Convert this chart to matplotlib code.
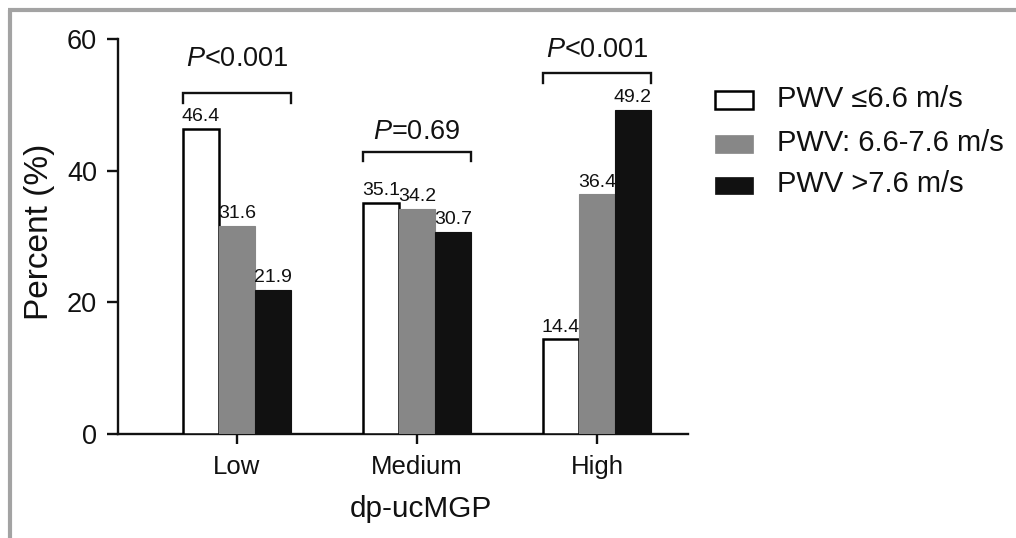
import matplotlib
matplotlib.use("Agg")
import matplotlib.pyplot as plt
from matplotlib.patches import Rectangle
from matplotlib.lines import Line2D
import numpy as np

plt.rcParams['font.family'] = ['Liberation Sans', 'DejaVu Sans']
plt.rcParams['mathtext.fontset'] = 'custom'
plt.rcParams['mathtext.rm'] = 'Liberation Sans'
plt.rcParams['mathtext.it'] = 'Liberation Sans:italic'

# ---- data ----
categories = ["Low", "Medium", "High"]
series_names = ["PWV \u22646.6 m/s", "PWV: 6.6-7.6 m/s", "PWV >7.6 m/s"]
pwv_low = [46.4, 35.1, 14.4]
pwv_mid = [31.6, 34.2, 36.4]
pwv_high = [21.9, 30.7, 49.2]
p_labels = ["$P$<0.001", "$P$=0.69", "$P$<0.001"]
bracket_heights = [51.8, 42.9, 54.8]
p_text_heights = [55.9, 44.8, 57.3]
yticks = [0, 20, 40, 60]

W, H = 1016, 538
fig = plt.figure(figsize=(W / 100, H / 100), dpi=100)

def fx(px):
    return px / W

def fy(py):
    return 1 - py / H

ax = fig.add_axes([fx(118), fy(434), fx(688) - fx(118), fy(39) - fy(434)])

x = np.arange(len(categories))
bw = 0.2
facecolors = ["white", "#878787", "#111111"]
edgecolors = ["black", "#878787", "#111111"]
all_series = [pwv_low, pwv_mid, pwv_high]
for k, (vals, fc, ec) in enumerate(zip(all_series, facecolors, edgecolors)):
    ax.bar(x + (k - 1) * bw, vals, width=bw, facecolor=fc,
           edgecolor=ec, linewidth=1.8 if k == 0 else 0.8, zorder=3)
    for xi, v in zip(x + (k - 1) * bw, vals):
        ax.annotate(f"{v:.1f}", (xi, v), xytext=(0, 5.5), textcoords="offset points",
                    ha="center", va="baseline", fontsize=14, color="#111111")

# significance brackets
leg = 1.5
for xi, bh, th, lab in zip(x, bracket_heights, p_text_heights, p_labels):
    x0, x1 = xi - 0.3, xi + 0.3
    ax.plot([x0, x0, x1, x1], [bh - leg, bh, bh, bh - leg], color="#111111",
            lw=1.7, clip_on=False, solid_joinstyle="miter")
    ax.text(xi, th, lab, ha="center", va="baseline", fontsize=19.5, color="#111111")

ax.set_xlim(-0.661, 2.506)
ax.set_ylim(0, 60)
ax.set_yticks(yticks)
ax.set_xticks(x)
ax.set_xticklabels(categories)
for s in ["top", "right"]:
    ax.spines[s].set_visible(False)
for s in ["left", "bottom"]:
    ax.spines[s].set_linewidth(1.7)
    ax.spines[s].set_color("#111111")
ax.tick_params(axis="y", length=8, width=1.7, pad=7, labelsize=19.5, colors="#111111")
ax.tick_params(axis="x", length=7.5, width=1.7, pad=7.5, labelsize=18.5, colors="#111111")

# axis titles
fig.text(fx(40), fy(232), "Percent (%)", rotation=90, ha="center", va="center",
         fontsize=24, color="#111111")
fig.text(fx(421), fy(517), "dp-ucMGP", ha="center", va="baseline",
         fontsize=21.4, color="#111111")

# legend (manual)
row_y = [100, 144, 185.5]
for ry, fc, ec, name in zip(row_y, facecolors, edgecolors, series_names):
    r = Rectangle((fx(715), fy(ry + 8.5)), fx(38), 17 / H, transform=fig.transFigure,
                  facecolor=fc, edgecolor=ec, linewidth=1.8 if fc == "white" else 0.5)
    fig.add_artist(r)
    fig.text(fx(777), fy(ry - 1), name, ha="left", va="center", fontsize=21,
             color="#111111")

# gray frame
fig.add_artist(Line2D([fx(9.5), fx(9.5)], [0, fy(10)], transform=fig.transFigure,
                      color="#a3a3a3", lw=3, solid_capstyle="butt"))
fig.add_artist(Line2D([fx(8), 1], [fy(10), fy(10)], transform=fig.transFigure,
                      color="#a3a3a3", lw=3, solid_capstyle="butt"))

fig.savefig("out.png", dpi=100)
